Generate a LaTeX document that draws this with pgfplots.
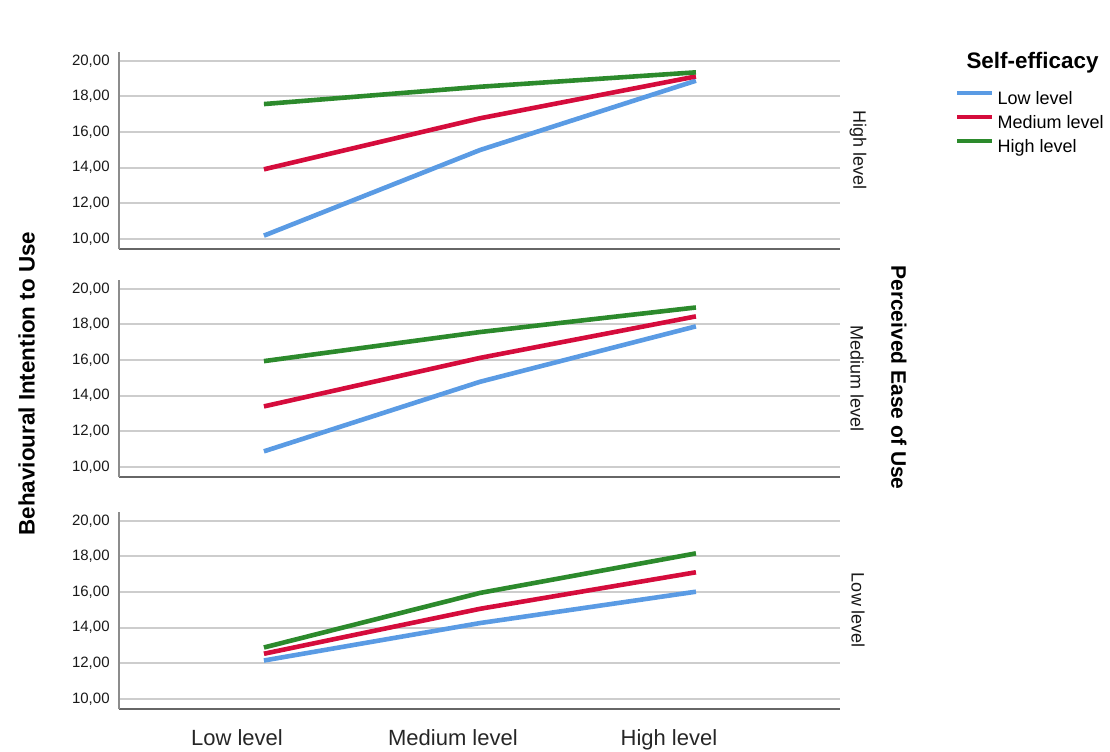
\documentclass[border=0pt]{standalone}
\usepackage{fontspec}
\setmainfont{Liberation Sans}
\usepackage{pgfplots}
\pgfplotsset{compat=1.18}
\definecolor{cblue}{RGB}{90,155,228}
\definecolor{cred}{RGB}{213,12,60}
\definecolor{cgreen}{RGB}{44,138,44}
\definecolor{gridc}{RGB}{205,205,205}
\tikzset{rowlab/.style={font=\fontsize{9pt}{10pt}\selectfont, rotate=-90, inner sep=0pt, text=black!90}}
\pgfplotsset{
  panel/.style={
    scale only axis, width=360.5pt, height=98.5pt,
    xmin=-0.671, xmax=2.667, ymin=9.44, ymax=20.49,
    axis x line*=bottom, axis y line*=left,
    x axis line style={draw=black!60, line width=1pt, -},
    y axis line style={draw=black!45, line width=1pt, -},
    ytick={10,12,14,16,18,20},
    yticklabels={{10,00},{12,00},{14,00},{16,00},{18,00},{20,00}},
    ymajorgrids, major grid style={gridc, line width=1pt},
    major tick length=0pt, tick style={draw=none},
    yticklabel style={font=\fontsize{7.5pt}{8pt}\selectfont, text=black!90, inner sep=0pt, xshift=-4.5pt},
    xtick={0,1,2}, xticklabels={},
    /pgf/number format/assume math mode=true,
    every axis plot/.append style={line width=2.3pt, mark=none},
    clip=false,
  },
}
\begin{document}
\begin{tikzpicture}
\path[use as bounding box] (0,0) rectangle (555pt,-375.5pt);
% Panel 1: PEOU High level
\begin{axis}[panel, at={(59.5pt,-26pt)}, anchor=north west,
  legend style={at={(1.1595,0.807)}, anchor=north west, draw=none, fill=none,
    inner sep=0pt, outer sep=0pt, row sep=3pt,
    nodes={inner sep=0pt, text height=7pt, text depth=2pt, font=\fontsize{9pt}{10pt}\selectfont},
    /tikz/column 2/.style={column sep=0pt}},
  legend cell align=left,
  legend image code/.code={\draw[#1, line width=2.3pt] (0pt,3pt) -- (17.5pt,3pt); \path (19pt,0pt);},
]
\addplot[cblue] coordinates {(0,10.19) (1,14.99) (2,18.88)};
\addplot[cred] coordinates {(0,13.91) (1,16.77) (2,19.12)};
\addplot[cgreen] coordinates {(0,17.57) (1,18.54) (2,19.35)};
\legend{Low level, Medium level, High level}
\node[rowlab] at (axis description cs:1.025,0.5) {High level};
\end{axis}
% Panel 2: PEOU Medium level
\begin{axis}[panel, at={(59.5pt,-140pt)}, anchor=north west]
\addplot[cblue] coordinates {(0,10.88) (1,14.78) (2,17.89)};
\addplot[cred] coordinates {(0,13.40) (1,16.12) (2,18.45)};
\addplot[cgreen] coordinates {(0,15.94) (1,17.57) (2,18.95)};
\node[rowlab] at (axis description cs:1.0236,0.5) {Medium level};
\end{axis}
% Panel 3: PEOU Low level
\begin{axis}[panel, at={(59.5pt,-256pt)}, anchor=north west,
  xticklabels={Low level, Medium level, High level},
  xticklabel style={font=\fontsize{11pt}{12pt}\selectfont, text=black!85, inner sep=0pt, anchor=north, yshift=-10pt, xshift=-13.5pt},
]
\addplot[cblue] coordinates {(0,12.16) (1,14.26) (2,16.02)};
\addplot[cred] coordinates {(0,12.54) (1,15.06) (2,17.11)};
\addplot[cgreen] coordinates {(0,12.89) (1,15.95) (2,18.17)};
\node[rowlab] at (axis description cs:1.025,0.5) {Low level};
\end{axis}
\node[font=\bfseries\fontsize{10.5pt}{12pt}\selectfont, rotate=-90, inner sep=0pt] at (449.5pt,-188.75pt) {Perceived Ease of Use};
\node[font=\bfseries\fontsize{11.2pt}{12pt}\selectfont, rotate=90, inner sep=0pt] at (13.25pt,-191.75pt) {Behavioural Intention to Use};
\node[font=\bfseries\fontsize{11.2pt}{12pt}\selectfont, inner sep=0pt] at (516.25pt,-31.25pt) {Self-efficacy};
\end{tikzpicture}
\end{document}
